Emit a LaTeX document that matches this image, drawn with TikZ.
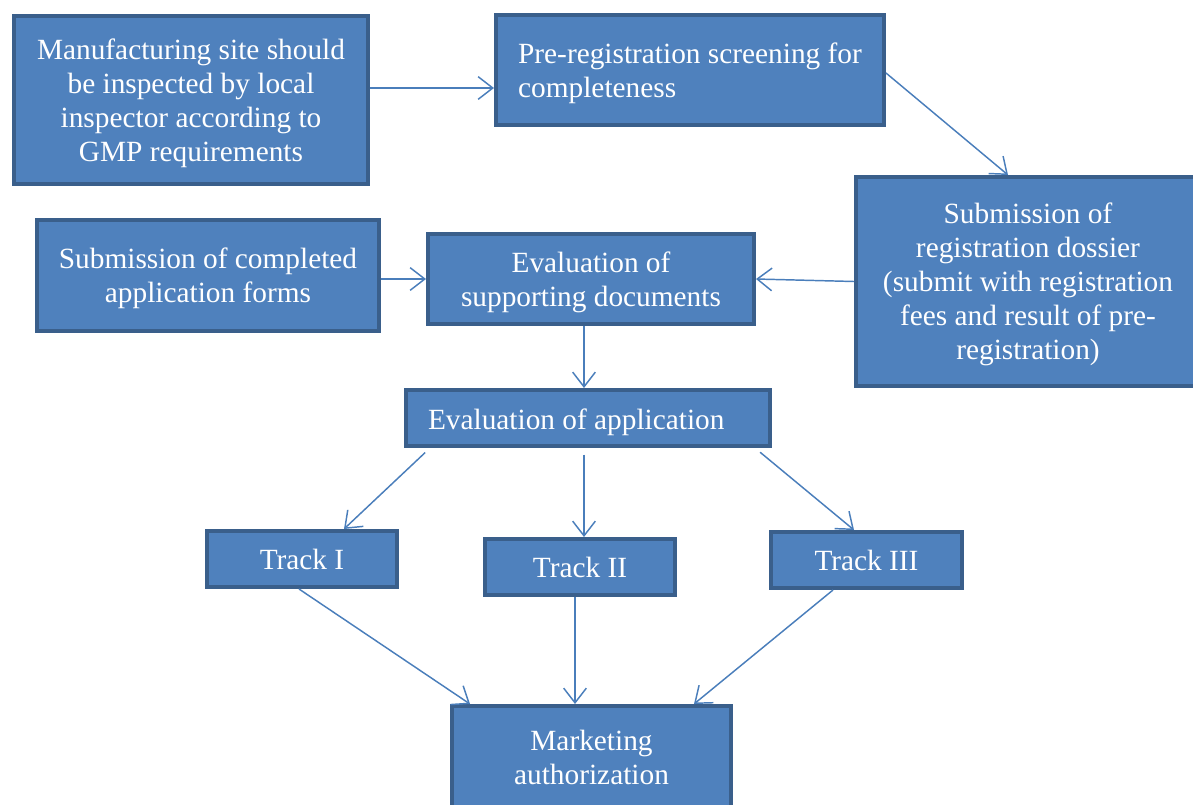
\documentclass[tikz,border=0pt]{standalone}
\usepackage{fontspec}
\setmainfont{Liberation Serif}
\usetikzlibrary{arrows.meta,calc}
\definecolor{boxfill}{HTML}{4F81BD}
\definecolor{boxline}{HTML}{3A5F8B}
\definecolor{arrcol}{HTML}{4A7EBB}
\newcommand\mybotstrut{\rule[-3.8pt]{0pt}{3.8pt}}
\begin{document}
\begin{tikzpicture}[x=0.75pt,y=-0.75pt,
  box/.style={draw=boxline,line width=3pt,fill=boxfill,text=white,
    font=\fontsize{22}{25.5}\selectfont,align=center,inner sep=0pt,text depth=0pt},
  onebox/.style={draw=boxline,line width=3pt,fill=boxfill,text=white,
    font=\fontsize{22}{25.5}\selectfont,align=center,inner sep=0pt,
    execute at end node=\mybotstrut},
  trackbox/.style={onebox,minimum width=142.5pt,minimum height=42pt,
    execute at begin node={\rule{0pt}{19pt}}},
  arr/.style={draw=arrcol,line width=1.1pt,-{Straight Barb[length=11pt,width=17pt,line width=1.1pt]}}]
\useasboundingbox (0,0) rectangle (1193,804);
\node[box,minimum width=265.5pt,minimum height=126pt] (man) at (191,100)
  {Manufacturing site should\\be inspected by local\\inspector according to\\GMP requirements};
\node[box,minimum width=291pt,minimum height=82.5pt,align=left] (pre) at (690,70)
  {Pre-registration screening for\\completeness};
\node[box,minimum width=258pt,minimum height=156.75pt] (dos) at (1028,281.5)
  {Submission of\\registration dossier\\(submit with registration\\fees and result of pre-\\registration)};
\node[box,minimum width=256.5pt,minimum height=83.25pt] (comp) at (208,275.5)
  {Submission of completed\\application forms};
\node[box,minimum width=244.5pt,minimum height=67.5pt] (sup) at (591,279)
  {Evaluation of\\supporting documents};
\node[onebox,minimum width=273pt,minimum height=42pt,text width=240pt,align=flush left,inner xsep=16.5pt,
  execute at begin node={\rule{0pt}{22pt}}] (app) at (588,418)
  {Evaluation of application};
\node[trackbox] (t1) at (302,559) {Track I};
\node[trackbox] (t2) at (580,567) {Track II};
\node[trackbox,minimum width=143.25pt] (t3) at (866.5,560) {Track III};
\node[box,minimum width=209.25pt,minimum height=76.5pt] (mkt) at (591.5,757)
  {Marketing\\authorization};
% connectors
\draw[arr] (man.east |- 0,88) -- (pre.west |- 0,88);
\draw[arr] (pre.east |- 0,73) -- (dos.north -| 1008,0);
\draw[arr] (dos.west) -- (sup.east);
\draw[arr] (comp.east |- sup.west) -- (sup.west);
\draw[arr] (sup.south -| 584,0) -- (app.north -| 584,0);
\draw[arr,shorten <=5pt] (app.south -| 430,0) -- (t1.north -| 344,0);
\draw[arr,shorten <=5pt] (app.south -| 584,0) -- (t2.north -| 584,0);
\draw[arr,shorten <=5pt] (app.south -| 755,0) -- (t3.north -| 854,0);
\draw[arr] (t1.south -| 299,0) -- (mkt.north -| 470,0);
\draw[arr] (t2.south -| 575,0) -- (mkt.north -| 575,0);
\draw[arr] (t3.south -| 833,0) -- (mkt.north -| 694,0);
\end{tikzpicture}
\end{document}
